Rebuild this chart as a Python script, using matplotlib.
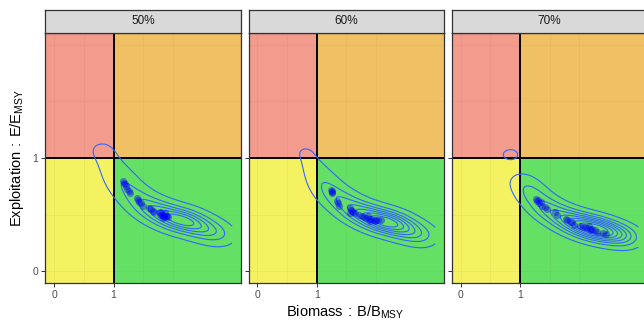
import numpy as np
import matplotlib
matplotlib.use('Agg')
import matplotlib.pyplot as plt
from matplotlib.patches import Rectangle

plt.rcParams['font.family'] = ['Liberation Sans', 'DejaVu Sans']
plt.rcParams['mathtext.default'] = 'regular'

panels = ['50%', '60%', '70%']
x_ticks = [0, 1]
y_ticks = [0, 1]
x_tick_labels = ['0', '1']
y_tick_labels = ['0', '1']

# plotted estimates (B/BMSY, E/EMSY)
pts_b = {
    '50%': [1.16, 1.18, 1.20, 1.21, 1.23, 1.26, 1.28,
            1.40, 1.43, 1.46, 1.42, 1.49,
            1.60, 1.63, 1.66, 1.68,
            1.78, 1.80, 1.82, 1.84, 1.86, 1.88, 1.90, 1.92, 1.85, 1.87, 1.83, 1.79],
    '60%': [1.24, 1.25, 1.26, 1.25,
            1.34, 1.36, 1.38,
            1.56, 1.58, 1.60, 1.62, 1.65, 1.57,
            1.72, 1.76, 1.80, 1.84, 1.88, 1.92, 1.96, 2.00, 2.04, 2.08, 1.90, 1.98, 1.86],
    '70%': [1.27, 1.29, 1.31, 1.33, 1.35, 1.38, 1.43, 1.46,
            1.60, 1.63,
            1.77, 1.80, 1.84, 1.88, 1.92,
            2.02, 2.06, 2.10, 2.14, 2.18, 2.22, 2.26, 2.30, 2.16, 2.20,
            2.40, 2.45],
}
pts_e = {
    '50%': [0.80, 0.78, 0.77, 0.75, 0.73, 0.71, 0.69,
            0.65, 0.61, 0.60, 0.63, 0.58,
            0.56, 0.55, 0.53, 0.52,
            0.52, 0.51, 0.50, 0.50, 0.49, 0.49, 0.49, 0.48, 0.48, 0.51, 0.47, 0.50],
    '60%': [0.72, 0.70, 0.71, 0.69,
            0.62, 0.60, 0.58,
            0.56, 0.54, 0.53, 0.52, 0.51, 0.51,
            0.50, 0.49, 0.48, 0.47, 0.46, 0.46, 0.45, 0.45, 0.45, 0.45, 0.44, 0.44, 0.49],
    '70%': [0.64, 0.62, 0.63, 0.60, 0.61, 0.58, 0.57, 0.55,
            0.52, 0.50,
            0.46, 0.45, 0.43, 0.43, 0.41,
            0.40, 0.39, 0.39, 0.38, 0.37, 0.37, 0.36, 0.35, 0.40, 0.36,
            0.34, 0.33],
}

# density samples along the uncertainty ridge (B, E, weight)
dens_b = {
    '50%': [0.80, 0.90, 1.00, 1.10, 1.20, 1.32, 1.45, 1.58, 1.72, 1.86, 2.00, 2.14, 2.28, 2.42, 2.56, 2.70, 2.84],
    '60%': [0.80, 0.90, 1.00, 1.10, 1.20, 1.32, 1.45, 1.58, 1.72, 1.86, 2.00, 2.14, 2.28, 2.42, 2.56, 2.70, 2.84],
    '70%': [0.84, 1.00, 1.08, 1.16, 1.24, 1.35, 1.47, 1.60, 1.74, 1.88, 2.02, 2.16, 2.30, 2.44, 2.58, 2.72, 2.86],
}
dens_e = {
    '50%': [1.08, 0.99, 0.90, 0.82, 0.75, 0.68, 0.62, 0.57, 0.53, 0.50, 0.47, 0.45, 0.43, 0.40, 0.37, 0.34, 0.31],
    '60%': [1.06, 0.96, 0.87, 0.79, 0.72, 0.66, 0.61, 0.56, 0.52, 0.49, 0.46, 0.44, 0.42, 0.39, 0.36, 0.33, 0.30],
    '70%': [1.03, 0.81, 0.76, 0.71, 0.66, 0.60, 0.55, 0.51, 0.47, 0.44, 0.41, 0.39, 0.37, 0.35, 0.33, 0.31, 0.29],
}
dens_w = {
    '50%': [1.2, 1.2, 1.5, 2.0, 2.5, 3.0, 3.5, 4.5, 5.5, 6.5, 7.5, 8.0, 7.5, 6.0, 4.5, 3.0, 2.0],
    '60%': [1.0, 1.0, 1.4, 2.0, 2.5, 3.0, 3.5, 4.5, 5.5, 6.5, 7.5, 8.5, 8.0, 6.5, 4.5, 3.0, 2.0],
    '70%': [1.5, 1.0, 1.3, 1.8, 2.5, 3.0, 3.5, 4.0, 5.0, 6.0, 7.5, 8.5, 9.0, 8.0, 6.0, 4.0, 2.5],
}
n_levels = {'50%': 6, '60%': 7, '70%': 8}

col_red = '#F39B8C'
col_orange = '#F0C064'
col_yellow = '#F5F262'
col_green = '#64E064'

W, H = 644, 321
fig = plt.figure(figsize=(W / 100, H / 100), dpi=100)

xlim = (-0.15, 3.15)
ylim = (-0.105, 2.105)
lefts = [45.4, 248.6, 451.8]
pw = 195.5
ptop, pbot = 33, 283
stop = 10

for i, p in enumerate(panels):
    ax = fig.add_axes([lefts[i] / W, (H - pbot) / H, pw / W, (pbot - ptop) / H])
    ax.set_xlim(*xlim)
    ax.set_ylim(*ylim)
    # quadrants
    ax.add_patch(Rectangle((xlim[0], 1), 1 - xlim[0], ylim[1] - 1, color=col_red, lw=0, zorder=1))
    ax.add_patch(Rectangle((1, 1), xlim[1] - 1, ylim[1] - 1, color=col_orange, lw=0, zorder=1))
    ax.add_patch(Rectangle((xlim[0], ylim[0]), 1 - xlim[0], 1 - ylim[0], color=col_yellow, lw=0, zorder=1))
    ax.add_patch(Rectangle((1, ylim[0]), xlim[1] - 1, 1 - ylim[0], color=col_green, lw=0, zorder=1))
    # faint grid showing through
    for gx in [0, 0.5, 1.5, 2]:
        ax.axvline(gx, color='#7F6F50', alpha=0.07, lw=0.7, zorder=1.5)
    for gy in [0, 0.5, 1.5, 2]:
        ax.axhline(gy, color='#7F6F50', alpha=0.07, lw=0.7, zorder=1.5)
    ax.axvline(1, color='black', lw=1.4, zorder=2)
    ax.axhline(1, color='black', lw=1.4, zorder=2)

    # density contours
    gx = np.linspace(0, 3.0, 300)
    gy = np.linspace(0, 2.0, 300)
    X, Y = np.meshgrid(gx, gy)
    Z = np.zeros_like(X)
    for b, e, w in zip(dens_b[p], dens_e[p], dens_w[p]):
        Z += w * np.exp(-0.5 * (((X - b) / 0.17) ** 2 + ((Y - e) / 0.062) ** 2))
    zmax = Z.max()
    nl = n_levels[p]
    levels = np.linspace(0.05, 0.85, nl) * zmax
    ax.contour(X, Y, Z, levels=levels, colors='#3366FF', linewidths=0.8, zorder=3)

    ax.scatter(pts_b[p], pts_e[p], s=26, color='#0000FF', alpha=0.4, lw=0, zorder=4)

    for s in ax.spines.values():
        s.set_color('#333333')
        s.set_linewidth(0.9)
        s.set_zorder(5)
    ax.set_xticks(x_ticks)
    ax.set_xticklabels(x_tick_labels)
    ax.set_yticks(y_ticks)
    if i == 0:
        ax.set_yticklabels(y_tick_labels)
    else:
        ax.set_yticklabels([])
        ax.tick_params(axis='y', length=0)
    ax.tick_params(axis='both', colors='#333333', labelcolor='#4D4D4D', labelsize=7.5,
                   length=3, width=0.7, pad=2)

    # strip
    sax = fig.add_axes([lefts[i] / W, (H - ptop) / H, pw / W, (ptop - stop) / H])
    sax.set_facecolor('#D9D9D9')
    sax.set_xticks([])
    sax.set_yticks([])
    for s in sax.spines.values():
        s.set_color('#333333')
        s.set_linewidth(0.9)
    sax.text(0.5, 0.5, p, ha='center', va='center', fontsize=8.5, color='#1A1A1A', transform=sax.transAxes)

fig.text(345.5 / W, 1 - 312 / H, r'Biomass$\,:\,$B/B$_{MSY}$', ha='center', va='center', fontsize=10.5, color='black')
fig.text(17 / W, 1 - 158 / H, r'Exploitation$\,:\,$E/E$_{MSY}$', ha='center', va='center', rotation=90,
         fontsize=10.5, color='black')

fig.savefig('out.png', dpi=100)
